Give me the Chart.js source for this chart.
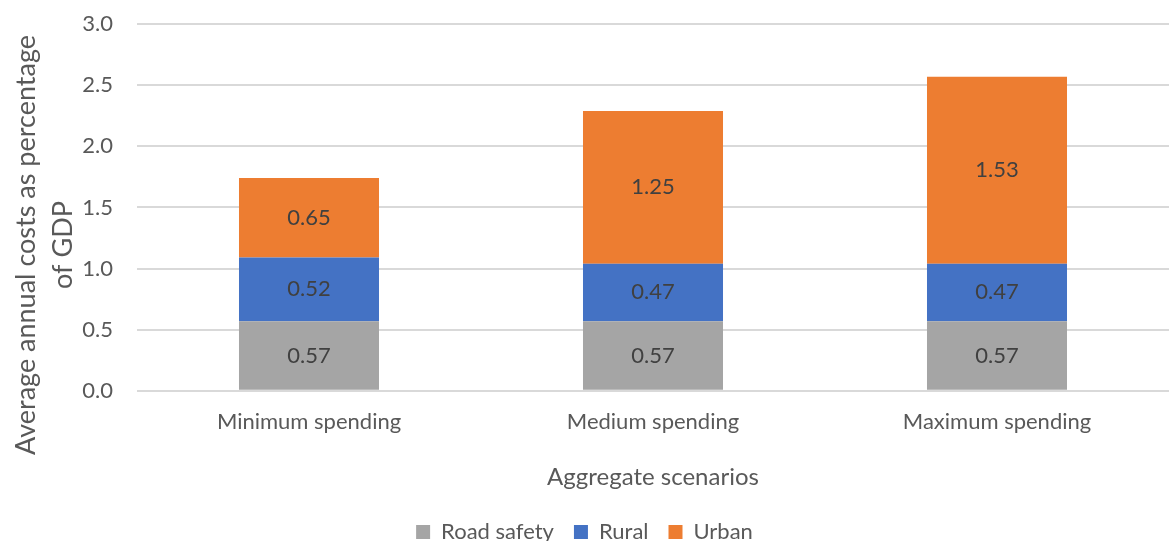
<!DOCTYPE html>
<html>
<head>
<meta charset="utf-8">
<script src="https://cdn.jsdelivr.net/npm/chart.js@4"></script>
<style>
  html, body { margin: 0; padding: 0; background: #fff; }
  #wrap { width: 1169px; height: 541px; }
</style>
</head>
<body>
<div id="wrap"><canvas id="costChart"></canvas></div>
<script>
const scenarios = ["Minimum spending", "Medium spending", "Maximum spending"];
const roadSafety = [0.57, 0.57, 0.57];
const rural = [0.52, 0.47, 0.47];
const urban = [0.65, 1.25, 1.53];

const fontFamily = 'Lato, "Open Sans", sans-serif';
const textColor = '#595959';

// draws the value inside each bar segment
const barLabels = {
    id: 'barLabels',
    afterDatasetsDraw(chart) {
        const ctx = chart.ctx;
        ctx.save();
        ctx.font = '22px ' + fontFamily;
        ctx.fillStyle = '#404040';
        ctx.textAlign = 'center';
        ctx.textBaseline = 'middle';
        chart.data.datasets.forEach((ds, i) => {
            chart.getDatasetMeta(i).data.forEach((bar, j) => {
                const mid = (bar.y + bar.base) / 2;
                ctx.fillText(ds.data[j].toFixed(2), bar.x, mid);
            });
        });
        ctx.restore();
    }
};

// two-line y axis title, centred like the original
const yTitle = {
    id: 'yTitle',
    afterDraw(chart) {
        const ctx = chart.ctx;
        ctx.save();
        ctx.font = '27px ' + fontFamily;
        ctx.fillStyle = textColor;
        ctx.textAlign = 'center';
        ctx.textBaseline = 'middle';
        ctx.translate(0, 245);
        ctx.rotate(-Math.PI / 2);
        ctx.fillText('Average annual costs as percentage', 0, 26);
        ctx.fillText('of GDP', 0, 63);
        ctx.restore();
    }
};

let costData = {
    labels: scenarios,
    datasets: [
        { label: 'Road safety', data: roadSafety, backgroundColor: '#A5A5A5' },
        { label: 'Rural', data: rural, backgroundColor: '#4472C4' },
        { label: 'Urban', data: urban, backgroundColor: '#ED7D31' }
    ]
};

let costOptions = {
    responsive: true,
    maintainAspectRatio: false,
    animation: false,
    layout: { padding: { top: 0, right: 0, left: 0, bottom: -12 } },
    datasets: { bar: { barPercentage: 0.407, categoryPercentage: 1.0 } },
    scales: {
        x: {
            stacked: true,
            grid: { display: false },
            border: { display: false },
            ticks: { color: textColor, font: { family: fontFamily, size: 22 }, padding: 10 },
            title: {
                display: true,
                text: 'Aggregate scenarios',
                color: textColor,
                font: { family: fontFamily, size: 24 },
                padding: { top: 18, bottom: 9 }
            }
        },
        y: {
            stacked: true,
            min: 0,
            max: 3,
            ticks: {
                stepSize: 0.5,
                color: textColor,
                // tiny line height keeps the top label from pushing the plot down
                font: { family: fontFamily, size: 22, lineHeight: 0.01 },
                padding: 24,
                callback: v => v.toFixed(1)
            },
            grid: { color: '#D9D9D9', lineWidth: 2, drawTicks: false },
            border: { display: false },
            afterFit(scale) { scale.width = 137; }
        }
    },
    plugins: {
        legend: {
            position: 'bottom',
            labels: {
                color: textColor,
                font: { family: fontFamily, size: 22 },
                boxWidth: 14,
                boxHeight: 14,
                padding: 20
            }
        },
        tooltip: { enabled: false }
    }
};

let costChart = new Chart(document.getElementById('costChart'), {
    type: 'bar',
    data: costData,
    options: costOptions,
    plugins: [barLabels, yTitle]
});
</script>
</body>
</html>
